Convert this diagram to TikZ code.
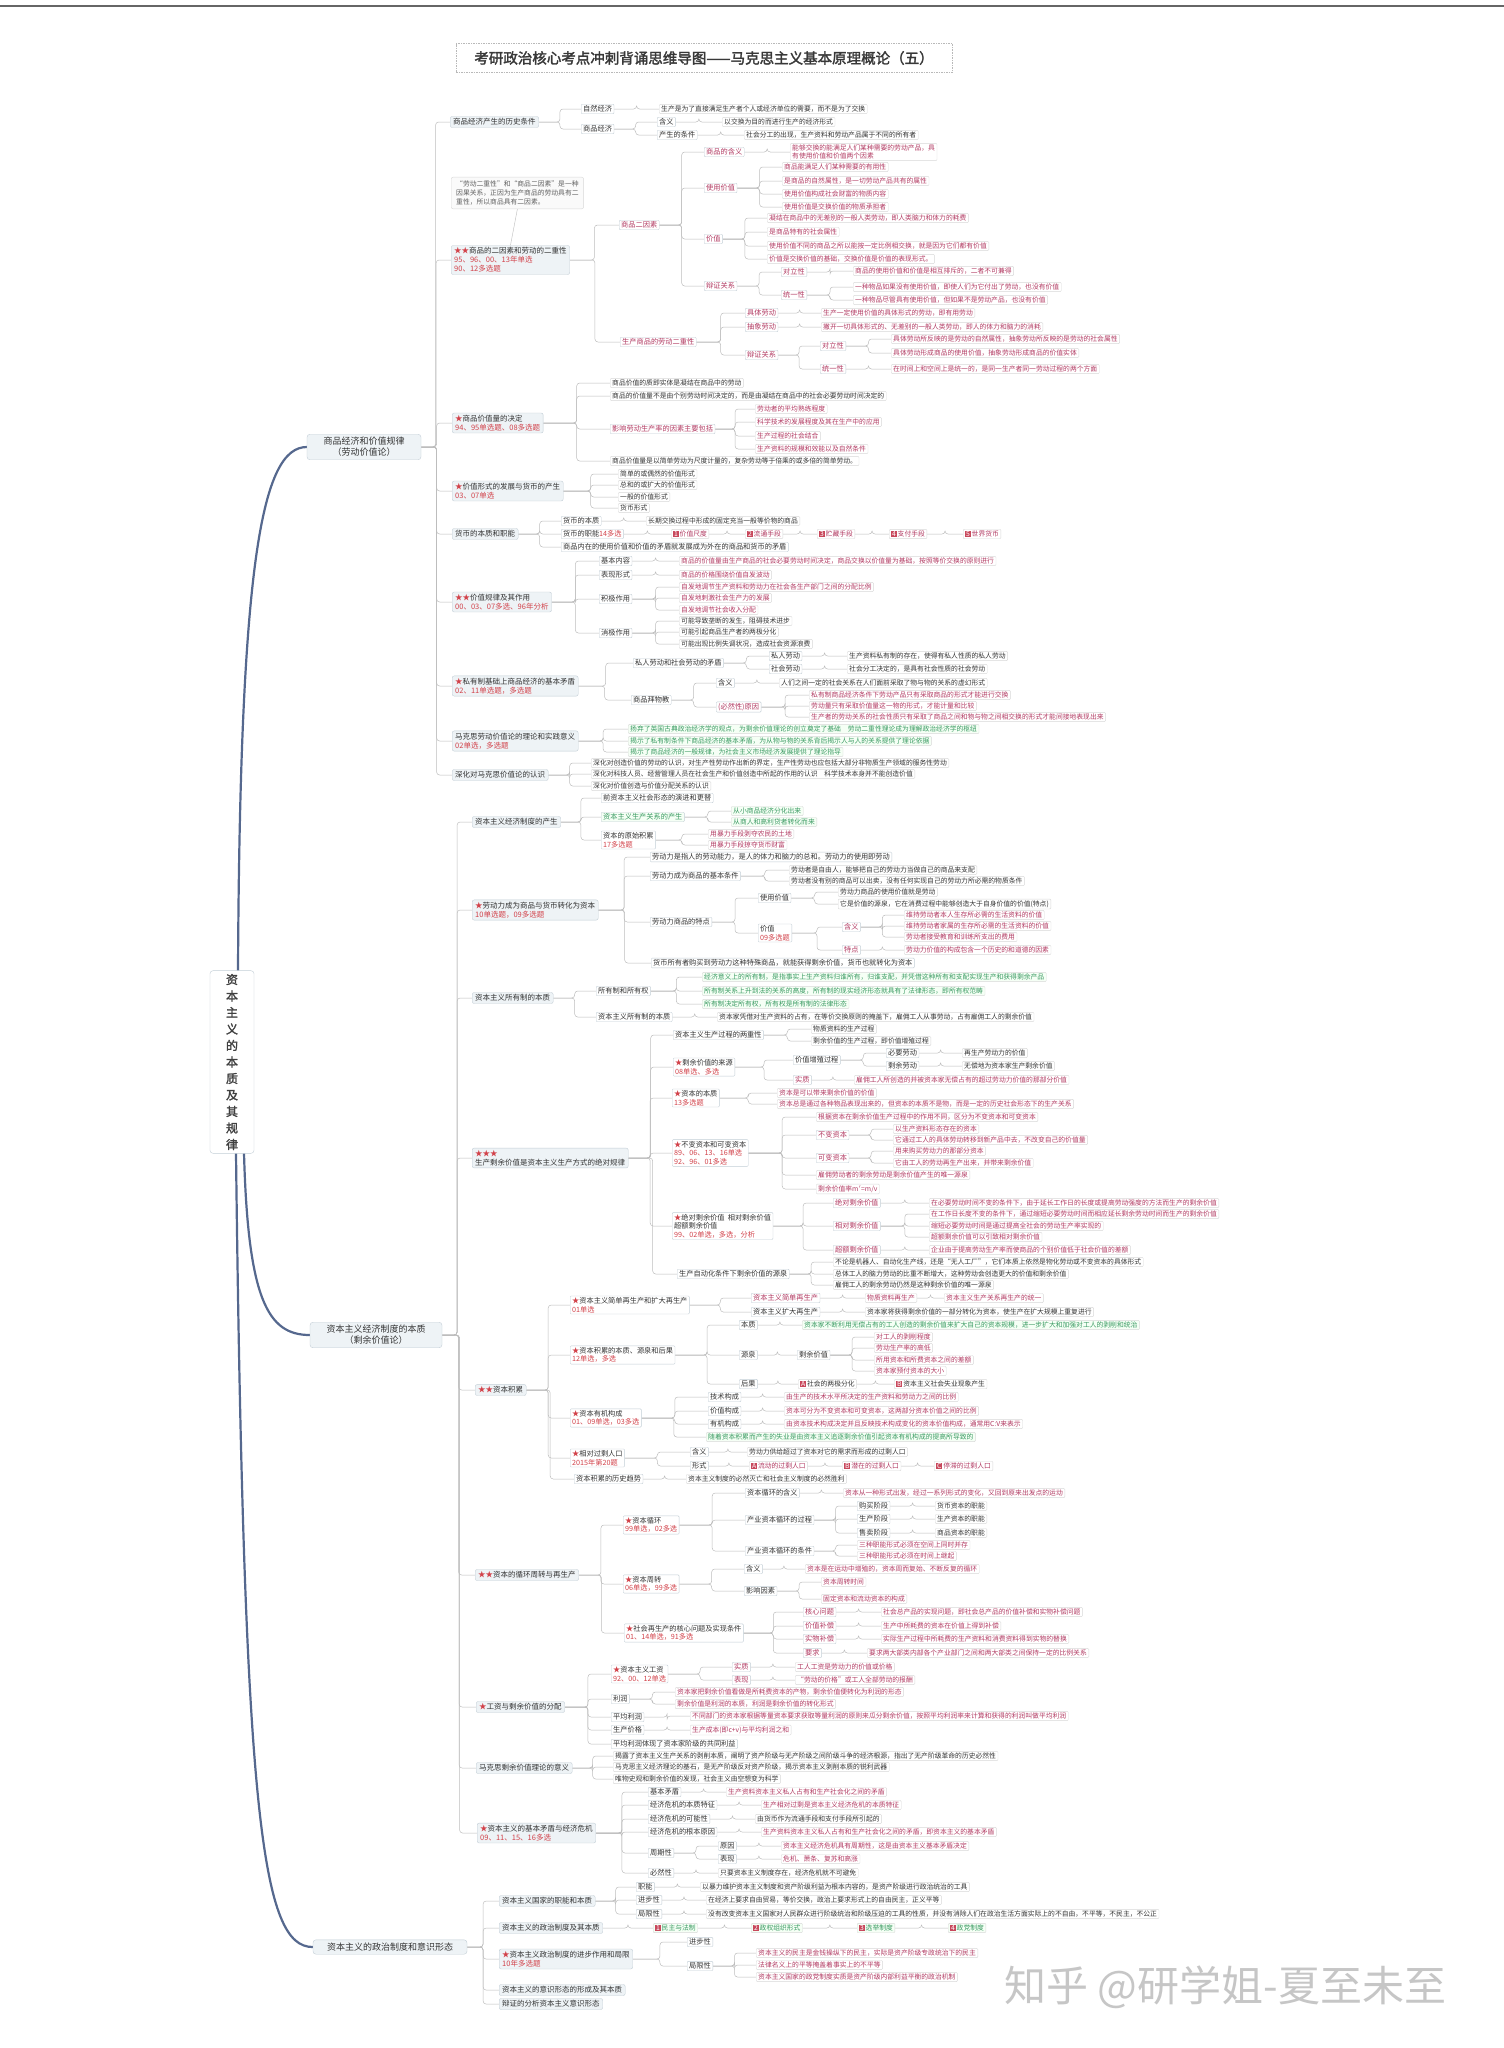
\documentclass[tikz,border=0pt]{standalone}
\usepackage{fontspec}
\setmainfont{Noto Sans CJK SC}[AutoFakeBold=2]
\usetikzlibrary{calc}
\pgfdeclarelayer{back}
\pgfdeclarelayer{bg}
\pgfsetlayers{back,bg,main}
\definecolor{pinkt}{HTML}{B23A62}
\definecolor{greent}{HTML}{3A9A62}
\definecolor{redy}{HTML}{D2424A}
\definecolor{topicf}{HTML}{EEF3F6}
\definecolor{topicd}{HTML}{C3CED6}
\definecolor{leafd}{HTML}{D8D8D8}
\definecolor{linec}{HTML}{BDBDBD}
\definecolor{rootl}{HTML}{55688E}
\definecolor{txt}{HTML}{333333}
\definecolor{badgec}{HTML}{C8485C}
\newcommand\st{\textcolor{redy}{★}}
\newcommand\yr[1]{\textcolor{redy}{#1}}
\newcommand\bdg[1]{{\setlength\fboxsep{0.8pt}\colorbox{badgec}{\textcolor{white}{#1}}}\,}
\newcommand\cnx[2]{\begin{pgfonlayer}{bg}\foreach \q in {#2}{\draw[cn] let \p1=(#1.east), \p2=(\q.west) in (\p1) -- ({0.5*\x1+0.5*\x2},\y1) |- (\p2);}\end{pgfonlayer}}
\tikzset{
 base/.style={anchor=west, inner xsep=2pt, inner ysep=1.4pt, text=txt, rounded corners=1pt},
 T/.style={base, draw=topicd, fill=topicf, font=\fontsize{7.5}{9}\selectfont, align=left, inner xsep=3pt, inner ysep=2pt, rounded corners=2pt},
 S/.style={base, draw=topicd, fill=white, font=\fontsize{7.2}{8.6}\selectfont, align=left},
 SP/.style={S, text=pinkt},
 SG/.style={S, text=greent, fill=green!4},
 L/.style={base, draw=leafd, fill=white, font=\fontsize{6.8}{8}\selectfont, align=left},
 P/.style={L, text=pinkt},
 G/.style={L, text=greent, fill=green!4},
 BR/.style={draw=topicd, fill=topicf, rounded corners=3pt, font=\fontsize{9}{11}\selectfont, align=center, text=txt, inner sep=3pt},
 NOTE/.style={anchor=west, draw=leafd, fill=gray!4, rounded corners=2pt, text=gray!75!black, font=\fontsize{6.8}{8.6}\selectfont, align=left, inner xsep=5pt, inner ysep=4pt},
 cn/.style={draw=linec, line width=0.5pt, rounded corners=3pt},
 rootln/.style={draw=rootl, line width=2.2pt, line cap=round},
}
\begin{document}
\begin{tikzpicture}[x=1pt,y=-1pt]
\begin{pgfonlayer}{back}
\fill[white] (0,0) rectangle (1504,2048);
\end{pgfonlayer}
\useasboundingbox (0,0) rectangle (1504,2048);
\draw[black!60, line width=1.2pt] (0,6) -- (1504,6);
% title
\node[draw=gray!55, dash pattern=on 1.5pt off 1pt, fill=white, minimum width=496pt, minimum height=29pt, font=\fontsize{14.5}{16}\selectfont\bfseries, text=black!78] (title) at (704,58) {考研政治核心考点冲刺背诵思维导图——马克思主义基本原理概论（五）};
% root
\node[draw=topicd, fill=white, rounded corners=3pt, minimum width=44pt, minimum height=182pt, align=center, font=\fontsize{12}{16.5}\selectfont\bfseries, text=black!75] (R) at (232,1062) {资\\本\\主\\义\\的\\本\\质\\及\\其\\规\\律};
\node[BR, minimum width=114pt] (B1) at (364,447) {商品经济和价值规律\\（劳动价值论）};
\node[BR, minimum width=132pt] (B2) at (376,1335) {资本主义经济制度的本质\\（剩余价值论）};
\node[BR, minimum width=154pt] (B3) at (390,1947) {资本主义的政治制度和意识形态};
\begin{pgfonlayer}{bg}
\draw[rootln] (238,971) .. controls (240,560) and (262,447) .. (B1.west);
\draw[rootln] (244,1153) .. controls (248,1300) and (268,1335) .. (B2.west);
\draw[rootln] (236,1153) .. controls (244,1820) and (262,1947) .. (B3.west);
\end{pgfonlayer}
% ===== Branch 1 =====
\node[T] (a1) at (450,122) {商品经济产生的历史条件};
\node[S] (a1a) at (581,109) {自然经济};
\node[S] (a1b) at (581,129) {商品经济};
\node[L] (a1a1) at (659,109) {生产是为了直接满足生产者个人或经济单位的需要，而不是为了交换};
\node[S] (a1b1) at (657,122) {含义};
\node[S] (a1b2) at (657,135) {产生的条件};
\node[L] (a1b1x) at (722,122) {以交换为目的而进行生产的经济形式};
\node[L] (a1b2x) at (744,135) {社会分工的出现，生产资料和劳动产品属于不同的所有者};
\cnx{a1}{a1a,a1b}\cnx{a1a}{a1a1}\cnx{a1b}{a1b1,a1b2}\cnx{a1b1}{a1b1x}\cnx{a1b2}{a1b2x}
\node[NOTE] (note) at (451,193) {“劳动二重性”和“商品二因素”是一种\\因果关系，正因为生产商品的劳动具有二\\重性，所以商品具有二因素。};
\node[T] (a2) at (451,260) {\st\st 商品的二因素和劳动的二重性\\\yr{95、96、00、13年单选}\\\yr{90、12多选题}};
\draw[linec] (note.south) -- (a2.north);
\node[SP] (a2a) at (619,225) {商品二因素};
\node[SP] (a2b) at (620,342) {生产商品的劳动二重性};
\node[SP] (a2c1) at (704,152) {商品的含义};
\node[P] (a2c1x) at (790,152) {能够交换的能满足人们某种需要的劳动产品，具\\有使用价值和价值两个因素};
\node[SP] (a2c2) at (704,188) {使用价值};
\node[P] (a2c2a) at (782,167) {商品能满足人们某种需要的有用性};
\node[P] (a2c2b) at (782,181) {是商品的自然属性，是一切劳动产品共有的属性};
\node[P] (a2c2c) at (782,194) {使用价值构成社会财富的物质内容};
\node[P] (a2c2d) at (782,207) {使用价值是交换价值的物质承担者};
\node[SP] (a2c3) at (704,239) {价值};
\node[P] (a2c3a) at (767,218) {凝结在商品中的无差别的一般人类劳动，即人类脑力和体力的耗费};
\node[P] (a2c3b) at (767,232) {是商品特有的社会属性};
\node[P] (a2c3c) at (767,246) {使用价值不同的商品之所以能按一定比例相交换，就是因为它们都有价值};
\node[P] (a2c3d) at (767,259) {价值是交换价值的基础，交换价值是价值的表现形式。};
\node[SP] (a2c4) at (704,286) {辩证关系};
\node[SP] (a2c4a) at (781,272) {对立性};
\node[P] (a2c4a1) at (853,271) {商品的使用价值和价值是相互排斥的，二者不可兼得};
\node[SP] (a2c4b) at (781,295) {统一性};
\node[P] (a2c4b1) at (853,287) {一种物品如果没有使用价值，即使人们为它付出了劳动，也没有价值};
\node[P] (a2c4b2) at (853,300) {一种物品尽管具有使用价值，但如果不是劳动产品，也没有价值};
\node[SP] (a2d1) at (745,313) {具体劳动};
\node[P] (a2d1x) at (821,313) {生产一定使用价值的具体形式的劳动，即有用劳动};
\node[SP] (a2d2) at (745,327) {抽象劳动};
\node[P] (a2d2x) at (821,327) {撇开一切具体形式的、无差别的一般人类劳动，即人的体力和脑力的消耗};
\node[SP] (a2d3) at (745,355) {辩证关系};
\node[SP] (a2d3a) at (820,346) {对立性};
\node[P] (a2d3a1) at (891,339) {具体劳动所反映的是劳动的自然属性，抽象劳动所反映的是劳动的社会属性};
\node[P] (a2d3a2) at (891,353) {具体劳动形成商品的使用价值，抽象劳动形成商品的价值实体};
\node[SP] (a2d3b) at (820,369) {统一性};
\node[P] (a2d3b1) at (891,369) {在时间上和空间上是统一的，是同一生产者同一劳动过程的两个方面};
\cnx{a2}{a2a,a2b}\cnx{a2a}{a2c1,a2c2,a2c3,a2c4}\cnx{a2c1}{a2c1x}
\cnx{a2c2}{a2c2a,a2c2b,a2c2c,a2c2d}\cnx{a2c3}{a2c3a,a2c3b,a2c3c,a2c3d}
\cnx{a2c4}{a2c4a,a2c4b}\cnx{a2c4a}{a2c4a1}\cnx{a2c4b}{a2c4b1,a2c4b2}
\cnx{a2b}{a2d1,a2d2,a2d3}\cnx{a2d1}{a2d1x}\cnx{a2d2}{a2d2x}\cnx{a2d3}{a2d3a,a2d3b}
\cnx{a2d3a}{a2d3a1,a2d3a2}\cnx{a2d3b}{a2d3b1}
\node[T] (a3) at (452,423) {\st 商品价值量的决定\\\yr{94、95单选题、08多选题}};
\node[L] (a3a) at (610,383) {商品价值的质即实体是凝结在商品中的劳动};
\node[L] (a3b) at (610,396) {商品的价值量不是由个别劳动时间决定的，而是由凝结在商品中的社会必要劳动时间决定的};
\node[SP] (a3c) at (610,429) {影响劳动生产率的因素主要包括};
\node[P] (a3c1) at (755,409) {劳动者的平均熟练程度};
\node[P] (a3c2) at (755,422) {科学技术的发展程度及其在生产中的应用};
\node[P] (a3c3) at (755,436) {生产过程的社会结合};
\node[P] (a3c4) at (755,449) {生产资料的规模和效能以及自然条件};
\node[L] (a3d) at (610,461) {商品价值量是以简单劳动为尺度计量的，复杂劳动等于倍乘的或多倍的简单劳动。};
\cnx{a3}{a3a,a3b,a3c,a3d}\cnx{a3c}{a3c1,a3c2,a3c3,a3c4}
\node[T] (a4) at (452,491) {\st 价值形式的发展与货币的产生\\\yr{03、07单选}};
\node[L] (a4a) at (618,474) {简单的或偶然的价值形式};
\node[L] (a4b) at (618,485) {总和的或扩大的价值形式};
\node[L] (a4c) at (618,497) {一般的价值形式};
\node[L] (a4d) at (618,508) {货币形式};
\cnx{a4}{a4a,a4b,a4c,a4d}
\node[T] (a5) at (452,534) {货币的本质和职能};
\node[S] (a5a) at (561,521) {货币的本质};
\node[L] (a5a1) at (646,521) {长期交换过程中形成的固定充当一般等价物的商品};
\node[S] (a5b) at (561,534) {货币的职能\yr{14多选}};
\node[P] (m1) at (671,534) {\bdg{1}价值尺度};
\node[P] (m2) at (745,534) {\bdg{2}流通手段};
\node[P] (m3) at (817,534) {\bdg{3}贮藏手段};
\node[P] (m4) at (889,534) {\bdg{4}支付手段};
\node[P] (m5) at (963,534) {\bdg{5}世界货币};
\node[S] (a5c) at (561,547) {商品内在的使用价值和价值的矛盾就发展成为外在的商品和货币的矛盾};
\cnx{a5}{a5a,a5b,a5c}\cnx{a5a}{a5a1}\cnx{a5b}{m1}\cnx{m1}{m2}\cnx{m2}{m3}\cnx{m3}{m4}\cnx{m4}{m5}
\node[T] (a6) at (452,602) {\st\st 价值规律及其作用\\\yr{00、03、07多选、96年分析}};
\node[S] (a6a) at (599,561) {基本内容};
\node[P] (a6a1) at (679,561) {商品的价值量由生产商品的社会必要劳动时间决定，商品交换以价值量为基础，按照等价交换的原则进行};
\node[S] (a6b) at (599,575) {表现形式};
\node[P] (a6b1) at (679,575) {商品的价格围绕价值自发波动};
\node[S] (a6c) at (599,599) {积极作用};
\node[P] (a6c1) at (679,587) {自发地调节生产资料和劳动力在社会各生产部门之间的分配比例};
\node[P] (a6c2) at (679,598) {自发地刺激社会生产力的发展};
\node[P] (a6c3) at (679,610) {自发地调节社会收入分配};
\node[S] (a6d) at (599,633) {消极作用};
\node[L] (a6d1) at (679,621) {可能导致垄断的发生，阻碍技术进步};
\node[L] (a6d2) at (679,632) {可能引起商品生产者的两极分化};
\node[L] (a6d3) at (679,644) {可能出现比例失调状况，造成社会资源浪费};
\cnx{a6}{a6a,a6b,a6c,a6d}\cnx{a6a}{a6a1}\cnx{a6b}{a6b1}\cnx{a6c}{a6c1,a6c2,a6c3}\cnx{a6d}{a6d1,a6d2,a6d3}
\node[T] (a7) at (452,686) {\st 私有制基础上商品经济的基本矛盾\\\yr{02、11单选题，多选题}};
\node[S] (a7a) at (633,663) {私人劳动和社会劳动的矛盾};
\node[S] (a7a1) at (769,656) {私人劳动};
\node[L] (a7a1x) at (847,656) {生产资料私有制的存在，使得有私人性质的私人劳动};
\node[S] (a7a2) at (769,669) {社会劳动};
\node[L] (a7a2x) at (847,669) {社会分工决定的，是具有社会性质的社会劳动};
\node[S] (a7b) at (631,700) {商品拜物教};
\node[S] (a7b1) at (716,683) {含义};
\node[L] (a7b1x) at (779,683) {人们之间一定的社会关系在人们面前采取了物与物的关系的虚幻形式};
\node[SP] (a7b2) at (716,707) {(必然性)原因};
\node[P] (a7b2a) at (809,695) {私有制商品经济条件下劳动产品只有采取商品的形式才能进行交换};
\node[P] (a7b2b) at (809,706) {劳动量只有采取价值量这一物的形式，才能计量和比较};
\node[P] (a7b2c) at (809,717) {生产者的劳动关系的社会性质只有采取了商品之间和物与物之间相交换的形式才能间接地表现出来};
\cnx{a7}{a7a,a7b}\cnx{a7a}{a7a1,a7a2}\cnx{a7a1}{a7a1x}\cnx{a7a2}{a7a2x}
\cnx{a7b}{a7b1,a7b2}\cnx{a7b1}{a7b1x}\cnx{a7b2}{a7b2a,a7b2b,a7b2c}
\node[T] (a8) at (452,741) {马克思劳动价值论的理论和实践意义\\\yr{02单选，多选题}};
\node[G] (a8a) at (628,729) {扬弃了英国古典政治经济学的观点，为剩余价值理论的创立奠定了基础\quad 劳动二重性理论成为理解政治经济学的枢纽};
\node[G] (a8b) at (628,741) {揭示了私有制条件下商品经济的基本矛盾，为从物与物的关系背后揭示人与人的关系提供了理论依据};
\node[G] (a8c) at (628,752) {揭示了商品经济的一般规律，为社会主义市场经济发展提供了理论指导};
\cnx{a8}{a8a,a8b,a8c}
\node[T] (a9) at (452,775) {深化对马克思价值论的认识};
\node[L] (a9a) at (591,763) {深化对创造价值的劳动的认识，对生产性劳动作出新的界定，生产性劳动也应包括大部分非物质生产领域的服务性劳动};
\node[L] (a9b) at (591,774) {深化对科技人员、经营管理人员在社会生产和价值创造中所起的作用的认识\quad 科学技术本身并不能创造价值};
\node[L] (a9c) at (591,786) {深化对价值创造与价值分配关系的认识};
\cnx{a9}{a9a,a9b,a9c}
\cnx{B1}{a1,a2,a3,a4,a5,a6,a7,a8,a9}
% ===== Branch 2 =====
\node[T] (b1) at (472,822) {资本主义经济制度的产生};
\node[S] (b1a) at (601,798) {前资本主义社会形态的演进和更替};
\node[SG] (b1b) at (601,817) {资本主义生产关系的产生};
\node[G] (b1b1) at (731,811) {从小商品经济分化出来};
\node[G] (b1b2) at (731,822) {从商人和高利贷者转化而来};
\node[S] (b1c) at (601,840) {资本的原始积累\\\yr{17多选题}};
\node[P] (b1c1) at (708,834) {用暴力手段剥夺农民的土地};
\node[P] (b1c2) at (708,845) {用暴力手段掠夺货币财富};
\cnx{b1}{b1a,b1b,b1c}\cnx{b1b}{b1b1,b1b2}\cnx{b1c}{b1c1,b1c2}
\node[T] (b2) at (472,910) {\st 劳动力成为商品与货币转化为资本\\\yr{10单选题，09多选题}};
\node[S] (b2a) at (650,857) {劳动力是指人的劳动能力，是人的体力和脑力的总和。劳动力的使用即劳动};
\node[S] (b2b) at (650,876) {劳动力成为商品的基本条件};
\node[L] (b2b1) at (789,870) {劳动者是自由人，能够把自己的劳动力当做自己的商品来支配};
\node[L] (b2b2) at (789,881) {劳动者没有别的商品可以出卖，没有任何实现自己的劳动力所必需的物质条件};
\node[S] (b2c) at (650,922) {劳动力商品的特点};
\node[S] (b2c1) at (758,898) {使用价值};
\node[L] (b2c1a) at (838,892) {劳动力商品的使用价值就是劳动};
\node[L] (b2c1b) at (838,904) {它是价值的源泉，它在消费过程中能够创造大于自身价值的价值(特点)};
\node[S] (b2c2) at (758,933) {价值\\\yr{09多选题}};
\node[SP] (b2c2a) at (842,927) {含义};
\node[P] (b2c2a1) at (904,915) {维持劳动者本人生存所必需的生活资料的价值};
\node[P] (b2c2a2) at (904,926) {维持劳动者家属的生存所必需的生活资料的价值};
\node[P] (b2c2a3) at (904,937) {劳动者接受教育和训练所支出的费用};
\node[SP] (b2c2b) at (842,950) {特点};
\node[P] (b2c2b1) at (904,950) {劳动力价值的构成包含一个历史的和道德的因素};
\node[S] (b2d) at (651,963) {货币所有者购买到劳动力这种特殊商品，就能获得剩余价值，货币也就转化为资本};
\cnx{b2}{b2a,b2b,b2c,b2d}\cnx{b2b}{b2b1,b2b2}\cnx{b2c}{b2c1,b2c2}\cnx{b2c1}{b2c1a,b2c1b}
\cnx{b2c2}{b2c2a,b2c2b}\cnx{b2c2a}{b2c2a1,b2c2a2,b2c2a3}\cnx{b2c2b}{b2c2b1}
\node[T] (b3) at (472,998) {资本主义所有制的本质};
\node[S] (b3a) at (596,991) {所有制和所有权};
\node[G] (b3a1) at (702,977) {经济意义上的所有制，是指事实上生产资料归谁所有，归谁支配，并凭借这种所有和支配实现生产和获得剩余产品};
\node[G] (b3a2) at (702,991) {所有制关系上升到法的关系的高度，所有制的现实经济形态就具有了法律形态，即所有权范畴};
\node[G] (b3a3) at (702,1004) {所有制决定所有权，所有权是所有制的法律形态};
\node[S] (b3b) at (596,1017) {资本主义所有制的本质};
\node[L] (b3b1) at (717,1017) {资本家凭借对生产资料的占有，在等价交换原则的掩盖下，雇佣工人从事劳动，占有雇佣工人的剩余价值};
\cnx{b3}{b3a,b3b}\cnx{b3a}{b3a1,b3a2,b3a3}\cnx{b3b}{b3b1}
\node[T] (b4) at (472,1158) {\st\st\st\\生产剩余价值是资本主义生产方式的绝对规律};
\node[S] (b4a) at (673,1035) {资本主义生产过程的两重性};
\node[L] (b4a1) at (811,1029) {物质资料的生产过程};
\node[L] (b4a2) at (811,1041) {剩余价值的生产过程，即价值增殖过程};
\node[S] (b4b) at (673,1067) {\st 剩余价值的来源\\\yr{08单选、多选}};
\node[S] (b4b1) at (793,1060) {价值增殖过程};
\node[S] (b4b1a) at (886,1053) {必要劳动};
\node[L] (b4b1a1) at (962,1053) {再生产劳动力的价值};
\node[S] (b4b1b) at (886,1066) {剩余劳动};
\node[L] (b4b1b1) at (962,1066) {无偿地为资本家生产剩余价值};
\node[SP] (b4b2) at (793,1080) {实质};
\node[P] (b4b2a) at (854,1080) {雇佣工人所创造的并被资本家无偿占有的超过劳动力价值的那部分价值};
\node[S] (b4c) at (672,1098) {\st 资本的本质\\\yr{13多选题}};
\node[P] (b4c1) at (777,1093) {资本是可以带来剩余价值的价值};
\node[P] (b4c2) at (777,1104) {资本总是通过各种物品表现出来的，但资本的本质不是物，而是一定的历史社会形态下的生产关系};
\node[S] (b4d) at (672,1153) {\st 不变资本和可变资本\\\yr{89、06、13、16单选}\\\yr{92、96、01多选}};
\node[P] (b4d0) at (816,1117) {根据资本在剩余价值生产过程中的作用不同，区分为不变资本和可变资本};
\node[SP] (b4d1) at (816,1135) {不变资本};
\node[P] (b4d1a) at (893,1129) {以生产资料形态存在的资本};
\node[P] (b4d1b) at (893,1140) {它通过工人的具体劳动转移到新产品中去，不改变自己的价值量};
\node[SP] (b4d2) at (816,1158) {可变资本};
\node[P] (b4d2a) at (893,1151) {用来购买劳动力的那部分资本};
\node[P] (b4d2b) at (893,1163) {它由工人的劳动再生产出来，并带来剩余价值};
\node[P] (b4d3) at (816,1175) {雇佣劳动者的剩余劳动是剩余价值产生的唯一源泉};
\node[P] (b4d4) at (816,1189) {剩余价值率m$'$=m/v};
\node[S] (b4e) at (672,1226) {\st 绝对剩余价值\ \ 相对剩余价值\\超额剩余价值\\\yr{99、02单选，多选，分析}};
\node[SP] (b4e1) at (833,1203) {绝对剩余价值};
\node[P] (b4e1a) at (929,1203) {在必要劳动时间不变的条件下，由于延长工作日的长度或提高劳动强度的方法而生产的剩余价值};
\node[SP] (b4e2) at (833,1226) {相对剩余价值};
\node[P] (b4e2a) at (929,1214) {在工作日长度不变的条件下，通过缩短必要劳动时间而相应延长剩余劳动时间而生产的剩余价值};
\node[P] (b4e2b) at (929,1226) {缩短必要劳动时间是通过提高全社会的劳动生产率实现的};
\node[P] (b4e2c) at (929,1237) {超额剩余价值可以引致相对剩余价值};
\node[SP] (b4e3) at (833,1250) {超额剩余价值};
\node[P] (b4e3a) at (929,1250) {企业由于提高劳动生产率而使商品的个别价值低于社会价值的差额};
\node[S] (b4f) at (677,1274) {生产自动化条件下剩余价值的源泉};
\node[L] (b4f1) at (833,1262) {不论是机器人、自动化生产线，还是“无人工厂”，它们本质上依然是物化劳动或不变资本的具体形式};
\node[L] (b4f2) at (833,1274) {总体工人的脑力劳动的比重不断增大，这种劳动会创造更大的价值和剩余价值};
\node[L] (b4f3) at (833,1285) {雇佣工人的剩余劳动仍然是这种剩余价值的唯一源泉};
\cnx{b4}{b4a,b4b,b4c,b4d,b4e,b4f}\cnx{b4a}{b4a1,b4a2}\cnx{b4b}{b4b1,b4b2}\cnx{b4b1}{b4b1a,b4b1b}
\cnx{b4b1a}{b4b1a1}\cnx{b4b1b}{b4b1b1}\cnx{b4b2}{b4b2a}\cnx{b4c}{b4c1,b4c2}
\cnx{b4d}{b4d0,b4d1,b4d2,b4d3,b4d4}\cnx{b4d1}{b4d1a,b4d1b}\cnx{b4d2}{b4d2a,b4d2b}
\cnx{b4e}{b4e1,b4e2,b4e3}\cnx{b4e1}{b4e1a}\cnx{b4e2}{b4e2a,b4e2b,b4e2c}\cnx{b4e3}{b4e3a}\cnx{b4f}{b4f1,b4f2,b4f3}
\node[T] (b5) at (475,1390) {\st\st 资本积累};
\node[S] (b5a) at (570,1305) {\st 资本主义简单再生产和扩大再生产\\\yr{01单选}};
\node[SP] (b5a1) at (751,1298) {资本主义简单再生产};
\node[P] (b5a1a) at (865,1298) {物质资料再生产};
\node[P] (b5a1b) at (944,1298) {资本主义生产关系再生产的统一};
\node[S] (b5a2) at (751,1312) {资本主义扩大再生产};
\node[L] (b5a2a) at (865,1312) {资本家将获得剩余价值的一部分转化为资本，使生产在扩大规模上重复进行};
\node[S] (b5b) at (570,1355) {\st 资本积累的本质、源泉和后果\\\yr{12单选，多选}};
\node[S] (b5b1) at (739,1325) {本质};
\node[G] (b5b1a) at (802,1325) {资本家不断利用无偿占有的工人创造的剩余价值来扩大自己的资本规模，进一步扩大和加强对工人的剥削和统治};
\node[S] (b5b2) at (739,1355) {源泉};
\node[S] (b5b2a) at (797,1355) {剩余价值};
\node[P] (b5b2a1) at (874,1337) {对工人的剥削程度};
\node[P] (b5b2a2) at (874,1348) {劳动生产率的高低};
\node[P] (b5b2a3) at (874,1360) {所用资本和所费资本之间的差额};
\node[P] (b5b2a4) at (874,1371) {资本家预付资本的大小};
\node[S] (b5b3) at (739,1384) {后果};
\node[L] (b5b3a) at (798,1384) {\bdg{A}社会的两极分化};
\node[L] (b5b3b) at (894,1384) {\bdg{B}资本主义社会失业现象产生};
\node[S] (b5c) at (570,1418) {\st 资本有机构成\\\yr{01、09单选，03多选}};
\node[S] (b5c1) at (708,1397) {技术构成};
\node[P] (b5c1a) at (784,1397) {由生产的技术水平所决定的生产资料和劳动力之间的比例};
\node[S] (b5c2) at (708,1411) {价值构成};
\node[P] (b5c2a) at (784,1411) {资本可分为不变资本和可变资本，这两部分资本价值之间的比例};
\node[S] (b5c3) at (708,1424) {有机构成};
\node[P] (b5c3a) at (784,1424) {由资本技术构成决定并且反映技术构成变化的资本价值构成，通常用C:V来表示};
\node[G] (b5c4) at (706,1437) {随着资本积累而产生的失业是由资本主义追逐剩余价值引起资本有机构成的提高所导致的};
\node[S] (b5d) at (570,1458) {\st 相对过剩人口\\\yr{2015年第20题}};
\node[S] (b5d1) at (690,1452) {含义};
\node[L] (b5d1a) at (747,1452) {劳动力供给超过了资本对它的需求而形成的过剩人口};
\node[S] (b5d2) at (690,1466) {形式};
\node[P] (b5d2a) at (749,1466) {\bdg{A}流动的过剩人口};
\node[P] (b5d2b) at (842,1466) {\bdg{B}潜在的过剩人口};
\node[P] (b5d2c) at (934,1466) {\bdg{C}停滞的过剩人口};
\node[S] (b5e) at (574,1479) {资本积累的历史趋势};
\node[L] (b5e1) at (686,1479) {资本主义制度的必然灭亡和社会主义制度的必然胜利};
\cnx{b5}{b5a,b5b,b5c,b5d,b5e}\cnx{b5a}{b5a1,b5a2}\cnx{b5a1}{b5a1a}\cnx{b5a1a}{b5a1b}\cnx{b5a2}{b5a2a}
\cnx{b5b}{b5b1,b5b2,b5b3}\cnx{b5b1}{b5b1a}\cnx{b5b2}{b5b2a}\cnx{b5b2a}{b5b2a1,b5b2a2,b5b2a3,b5b2a4}
\cnx{b5b3}{b5b3a}\cnx{b5b3a}{b5b3b}\cnx{b5c}{b5c1,b5c2,b5c3,b5c4}\cnx{b5c1}{b5c1a}\cnx{b5c2}{b5c2a}\cnx{b5c3}{b5c3a}
\cnx{b5d}{b5d1,b5d2}\cnx{b5d1}{b5d1a}\cnx{b5d2}{b5d2a}\cnx{b5d2a}{b5d2b}\cnx{b5d2b}{b5d2c}\cnx{b5e}{b5e1}
\node[T] (b6) at (475,1575) {\st\st 资本的循环周转与再生产};
\node[S] (b6a) at (623,1525) {\st 资本循环\\\yr{99单选，02多选}};
\node[S] (b6a1) at (745,1493) {资本循环的含义};
\node[P] (b6a1a) at (843,1493) {资本从一种形式出发，经过一系列形式的变化，又回到原来出发点的运动};
\node[S] (b6a2) at (745,1520) {产业资本循环的过程};
\node[S] (b6a2a) at (857,1506) {购买阶段};
\node[L] (b6a2a1) at (935,1506) {货币资本的职能};
\node[S] (b6a2b) at (857,1519) {生产阶段};
\node[L] (b6a2b1) at (935,1519) {生产资本的职能};
\node[S] (b6a2c) at (857,1533) {售卖阶段};
\node[L] (b6a2c1) at (935,1533) {商品资本的职能};
\node[S] (b6a3) at (745,1551) {产业资本循环的条件};
\node[P] (b6a3a) at (857,1545) {三种职能形式必须在空间上同时并存};
\node[P] (b6a3b) at (857,1556) {三种职能形式必须在时间上继起};
\node[S] (b6b) at (623,1584) {\st 资本周转\\\yr{06单选，99多选}};
\node[S] (b6b1) at (744,1569) {含义};
\node[P] (b6b1a) at (805,1569) {资本是在运动中增殖的，资本周而复始、不断反复的循环};
\node[S] (b6b2) at (744,1591) {影响因素};
\node[P] (b6b2a) at (821,1582) {资本周转时间};
\node[P] (b6b2b) at (821,1599) {固定资本和流动资本的构成};
\node[S] (b6c) at (624,1633) {\st 社会再生产的核心问题及实现条件\\\yr{01、14单选，91多选}};
\node[SP] (b6c1) at (803,1612) {核心问题};
\node[P] (b6c1a) at (881,1612) {社会总产品的实现问题，即社会总产品的价值补偿和实物补偿问题};
\node[SP] (b6c2) at (803,1626) {价值补偿};
\node[P] (b6c2a) at (881,1626) {生产中所耗费的资本在价值上得到补偿};
\node[SP] (b6c3) at (803,1639) {实物补偿};
\node[P] (b6c3a) at (881,1639) {实际生产过程中所耗费的生产资料和消费资料得到实物的替换};
\node[SP] (b6c4) at (803,1653) {要求};
\node[P] (b6c4a) at (867,1653) {要求两大部类内部各个产业部门之间和两大部类之间保持一定的比例关系};
\cnx{b6}{b6a,b6b,b6c}\cnx{b6a}{b6a1,b6a2,b6a3}\cnx{b6a1}{b6a1a}\cnx{b6a2}{b6a2a,b6a2b,b6a2c}
\cnx{b6a2a}{b6a2a1}\cnx{b6a2b}{b6a2b1}\cnx{b6a2c}{b6a2c1}\cnx{b6a3}{b6a3a,b6a3b}
\cnx{b6b}{b6b1,b6b2}\cnx{b6b1}{b6b1a}\cnx{b6b2}{b6b2a,b6b2b}
\cnx{b6c}{b6c1,b6c2,b6c3,b6c4}\cnx{b6c1}{b6c1a}\cnx{b6c2}{b6c2a}\cnx{b6c3}{b6c3a}\cnx{b6c4}{b6c4a}
\node[T] (b7) at (476,1707) {\st 工资与剩余价值的分配};
\node[S] (b7a) at (611,1674) {\st 资本主义工资\\\yr{92、00、12单选}};
\node[SP] (b7a1) at (732,1667) {实质};
\node[P] (b7a1a) at (795,1667) {工人工资是劳动力的价值或价格};
\node[SP] (b7a2) at (732,1680) {表现};
\node[P] (b7a2a) at (795,1680) {“劳动的价格”或工人全部劳动的报酬};
\node[S] (b7b) at (611,1699) {利润};
\node[P] (b7b1) at (675,1692) {资本家把剩余价值看做是所耗费资本的产物，剩余价值便转化为利润的形态};
\node[P] (b7b2) at (675,1704) {剩余价值是利润的本质，利润是剩余价值的转化形式};
\node[S] (b7c) at (611,1717) {平均利润};
\node[P] (b7c1) at (690,1716) {不同部门的资本家根据等量资本要求获取等量利润的原则来瓜分剩余价值，按照平均利润率来计算和获得的利润叫做平均利润};
\node[S] (b7d) at (611,1730) {生产价格};
\node[P] (b7d1) at (690,1730) {生产成本(即c+v)与平均利润之和};
\node[S] (b7e) at (611,1744) {平均利润体现了资本家阶级的共同利益};
\cnx{b7}{b7a,b7b,b7c,b7d,b7e}\cnx{b7a}{b7a1,b7a2}\cnx{b7a1}{b7a1a}\cnx{b7a2}{b7a2a}
\cnx{b7b}{b7b1,b7b2}\cnx{b7c}{b7c1}\cnx{b7d}{b7d1}
\node[T] (b8) at (476,1768) {马克思剩余价值理论的意义};
\node[L] (b8a) at (613,1756) {揭露了资本主义生产关系的剥削本质，阐明了资产阶级与无产阶级之间阶级斗争的经济根源，指出了无产阶级革命的历史必然性};
\node[L] (b8b) at (613,1767) {马克思主义经济理论的基石，是无产阶级反对资产阶级，揭示资本主义剥削本质的锐利武器};
\node[L] (b8c) at (613,1779) {唯物史观和剩余价值的发现，社会主义由空想变为科学};
\cnx{b8}{b8a,b8b,b8c}
\node[T] (b9) at (477,1833) {\st 资本主义的基本矛盾与经济危机\\\yr{09、11、15、16多选}};
\node[S] (b9a) at (648,1792) {基本矛盾};
\node[P] (b9a1) at (726,1792) {生产资料资本主义私人占有和生产社会化之间的矛盾};
\node[S] (b9b) at (648,1805) {经济危机的本质特征};
\node[P] (b9b1) at (761,1805) {生产相对过剩是资本主义经济危机的本质特征};
\node[S] (b9c) at (648,1819) {经济危机的可能性};
\node[L] (b9c1) at (755,1819) {由货币作为流通手段和支付手段所引起的};
\node[S] (b9d) at (648,1832) {经济危机的根本原因};
\node[P] (b9d1) at (761,1832) {生产资料资本主义私人占有和生产社会化之间的矛盾，即资本主义的基本矛盾};
\node[S] (b9e) at (648,1853) {周期性};
\node[S] (b9e1) at (718,1846) {原因};
\node[P] (b9e1a) at (781,1846) {资本主义经济危机具有周期性，这是由资本主义基本矛盾决定};
\node[S] (b9e2) at (718,1859) {表现};
\node[P] (b9e2a) at (781,1859) {危机、萧条、复苏和高涨};
\node[S] (b9f) at (648,1873) {必然性};
\node[L] (b9f1) at (718,1873) {只要资本主义制度存在，经济危机就不可避免};
\cnx{b9}{b9a,b9b,b9c,b9d,b9e,b9f}\cnx{b9a}{b9a1}\cnx{b9b}{b9b1}\cnx{b9c}{b9c1}\cnx{b9d}{b9d1}
\cnx{b9e}{b9e1,b9e2}\cnx{b9e1}{b9e1a}\cnx{b9e2}{b9e2a}\cnx{b9f}{b9f1}
\cnx{B2}{b1,b2,b3,b4,b5,b6,b7,b8,b9}
% ===== Branch 3 =====
\node[T] (e1) at (499,1901) {资本主义国家的职能和本质};
\node[S] (e1a) at (636,1887) {职能};
\node[L] (e1a1) at (700,1887) {以暴力维护资本主义制度和资产阶级利益为根本内容的，是资产阶级进行政治统治的工具};
\node[S] (e1b) at (636,1900) {进步性};
\node[L] (e1b1) at (706,1900) {在经济上要求自由贸易，等价交换，政治上要求形式上的自由民主，正义平等};
\node[S] (e1c) at (636,1914) {局限性};
\node[L] (e1c1) at (706,1914) {没有改变资本主义国家对人民群众进行阶级统治和阶级压迫的工具的性质，并没有消除人们在政治生活方面实际上的不自由，不平等，不民主，不公正};
\node[T] (e2) at (499,1928) {资本主义的政治制度及其本质};
\node[G] (e2a) at (653,1928) {\bdg{1}民主与法制};
\node[G] (e2b) at (751,1928) {\bdg{2}政权组织形式};
\node[G] (e2c) at (857,1928) {\bdg{3}选举制度};
\node[G] (e2d) at (948,1928) {\bdg{4}政党制度};
\node[T] (e3) at (499,1959) {\st 资本主义政治制度的进步作用和局限\\\yr{10年多选题}};
\node[S] (e3a) at (687,1942) {进步性};
\node[S] (e3b) at (687,1966) {局限性};
\node[P] (e3b1) at (756,1953) {资本主义的民主是金钱操纵下的民主，实际是资产阶级专政统治下的民主};
\node[P] (e3b2) at (756,1965) {法律名义上的平等掩盖着事实上的不平等};
\node[P] (e3b3) at (756,1977) {资本主义国家的政党制度实质是资产阶级内部利益平衡的政治机制};
\node[T] (e4) at (499,1990) {资本主义的意识形态的形成及其本质};
\node[T] (e5) at (499,2004) {辩证的分析资本主义意识形态};
\cnx{e1}{e1a,e1b,e1c}\cnx{e1a}{e1a1}\cnx{e1b}{e1b1}\cnx{e1c}{e1c1}
\cnx{e2}{e2a}\cnx{e2a}{e2b}\cnx{e2b}{e2c}\cnx{e2c}{e2d}
\cnx{e3}{e3a,e3b}\cnx{e3b}{e3b1,e3b2,e3b3}
\cnx{B3}{e1,e2,e3,e4,e5}
% watermark
\node[anchor=west, font=\fontsize{42}{44}\selectfont, text=gray!45] (wm) at (1001,1987) {知乎 @研学姐-夏至未至};
\end{tikzpicture}
\end{document}
